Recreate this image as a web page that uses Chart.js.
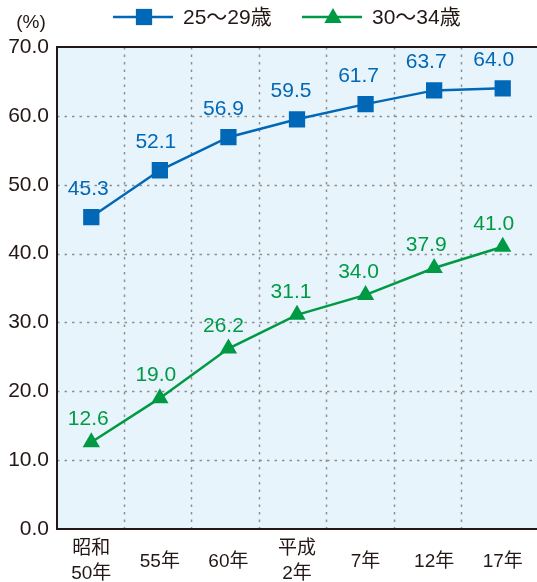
<!DOCTYPE html>
<html>
<head>
<meta charset="utf-8">
<script src="https://cdn.jsdelivr.net/npm/chart.js@4"></script>
<style>
  html, body { margin: 0; padding: 0; background: #fff; }
  #wrap { width: 537px; height: 582px; position: relative; }
</style>
</head>
<body>
<div id="wrap"><canvas id="myChart" width="537" height="582"></canvas></div>
<script>
const years = [["昭和", "50年"], "55年", "60年", ["平成", "2年"], "7年", "12年", "17年"];
const age25to29 = [45.3, 52.1, 56.9, 59.5, 61.7, 63.7, 64.0];
const age30to34 = [12.6, 19.0, 26.2, 31.1, 34.0, 37.9, 41.0];
const seriesNames = ["25〜29歳", "30〜34歳"];
const yTicks = [0, 10, 20, 30, 40, 50, 60, 70];

const BLUE = "#0068b7";
const GREEN = "#009a44";
const INK = "#231815";
const FONT = "'Liberation Sans', 'Noto Sans CJK JP', sans-serif";

document.addEventListener("DOMContentLoaded", () => {

  const drawMarker = (ctx, style, x, y, r, color) => {
    ctx.fillStyle = color;
    ctx.beginPath();
    if (style === "rect") {
      const s = r * Math.SQRT1_2;
      ctx.rect(x - s, y - s, 2 * s, 2 * s);
    } else {
      ctx.moveTo(x, y - r);
      ctx.lineTo(x + r * Math.sqrt(3) / 2, y + r / 2);
      ctx.lineTo(x - r * Math.sqrt(3) / 2, y + r / 2);
      ctx.closePath();
    }
    ctx.fill();
  };

  // background, dotted grid and axis lines
  const plotBack = {
    id: "plotBack",
    beforeDatasetsDraw: chart => {
      const { ctx, chartArea: a, scales } = chart;
      ctx.save();
      ctx.fillStyle = "#e8f4fc";
      ctx.fillRect(a.left, a.top, a.right - a.left, a.bottom - a.top);

      ctx.strokeStyle = "#8f8f8f";
      ctx.lineWidth = 1.5;
      ctx.setLineDash([2.5, 5]);
      yTicks.forEach(v => {
        if (v === 0 || v === 70) return;
        const y = Math.round(scales.y.getPixelForValue(v)) + 0.5;
        ctx.beginPath();
        ctx.moveTo(a.left, y);
        ctx.lineTo(a.right, y);
        ctx.stroke();
      });
      for (let i = 0; i < years.length - 1; i++) {
        const x = Math.round((scales.x.getPixelForTick(i) + scales.x.getPixelForTick(i + 1)) / 2) - 1.5 - i;
        ctx.beginPath();
        ctx.moveTo(x, a.top);
        ctx.lineTo(x, a.bottom);
        ctx.stroke();
      }

      ctx.setLineDash([]);
      ctx.strokeStyle = INK;
      ctx.lineWidth = 2;
      ctx.beginPath();
      ctx.moveTo(a.right, a.top);
      ctx.lineTo(a.left, a.top);
      ctx.lineTo(a.left, a.bottom);
      ctx.lineTo(a.right, a.bottom);
      ctx.stroke();
      ctx.restore();
    },
    afterDatasetsDraw: chart => {
      const { ctx } = chart;
      ctx.save();
      ctx.font = "21px " + FONT;
      ctx.textAlign = "center";
      ctx.textBaseline = "alphabetic";
      chart.data.datasets.forEach((ds, di) => {
        const meta = chart.getDatasetMeta(di);
        meta.data.forEach((pt, i) => {
          ctx.fillStyle = ds.borderColor;
          const lift = di === 0 ? 22 : 17;
          ctx.fillText(ds.data[i].toFixed(1), pt.x - 3 - i, pt.y - lift);
        });
      });

      // unit label
      ctx.fillStyle = INK;
      ctx.font = "19px " + FONT;
      ctx.textAlign = "center";
      ctx.textBaseline = "middle";
      ctx.fillText("(%)", 31, 23);

      // legend
      const items = [
        { x: 113, color: BLUE, style: "rect", r: 11.5 },
        { x: 302, color: GREEN, style: "triangle", r: 10 }
      ];
      ctx.font = "21px " + FONT;
      ctx.textAlign = "left";
      items.forEach((it, i) => {
        ctx.strokeStyle = it.color;
        ctx.lineWidth = 2.5;
        ctx.beginPath();
        ctx.moveTo(it.x, 17);
        ctx.lineTo(it.x + 60, 17);
        ctx.stroke();
        drawMarker(ctx, it.style, it.x + 31, it.style === "rect" ? 17 : 18, it.r, it.color);
        ctx.fillStyle = INK;
        ctx.fillText(seriesNames[i], it.x + 70, 18);
      });
      ctx.restore();
    }
  };

  const ctx = document.getElementById("myChart").getContext("2d");
  const chart = new Chart(ctx, {
    type: "line",
    data: {
      labels: years,
      datasets: [
        {
          label: seriesNames[0],
          data: age25to29,
          borderColor: BLUE,
          backgroundColor: BLUE,
          borderWidth: 2.5,
          pointStyle: "rect",
          pointRadius: 11.5,
          pointBorderWidth: 0,
          pointHoverRadius: 11.5,
          tension: 0
        },
        {
          label: seriesNames[1],
          data: age30to34,
          borderColor: GREEN,
          backgroundColor: GREEN,
          borderWidth: 2.5,
          pointStyle: "triangle",
          pointRadius: 10,
          pointBorderWidth: 0,
          pointHoverRadius: 10,
          tension: 0
        }
      ]
    },
    options: {
      responsive: false,
      animation: false,
      layout: { autoPadding: false, padding: { top: 47, right: 0, bottom: 0, left: 0 } },
      plugins: {
        legend: { display: false },
        tooltip: { enabled: false }
      },
      scales: {
        x: {
          offset: true,
          grid: { display: false, drawTicks: false },
          border: { display: false },
          ticks: {
            color: INK,
            font: { family: FONT, size: 19, lineHeight: 1.3 },
            padding: 20,
            crossAlign: "center",
            maxRotation: 0,
            autoSkip: false
          },
          afterFit: scale => {
            scale.height = 53;
            scale.paddingLeft = 0;
            scale.paddingRight = 0;
          }
        },
        y: {
          min: 0,
          max: 70,
          grid: { display: false, drawTicks: false },
          border: { display: false },
          ticks: {
            stepSize: 10,
            color: INK,
            font: { family: FONT, size: 21 },
            padding: 8,
            callback: v => v.toFixed(1)
          },
          afterFit: scale => { scale.width = 57; }
        }
      }
    },
    plugins: [plotBack]
  });
});
</script>
</body>
</html>
